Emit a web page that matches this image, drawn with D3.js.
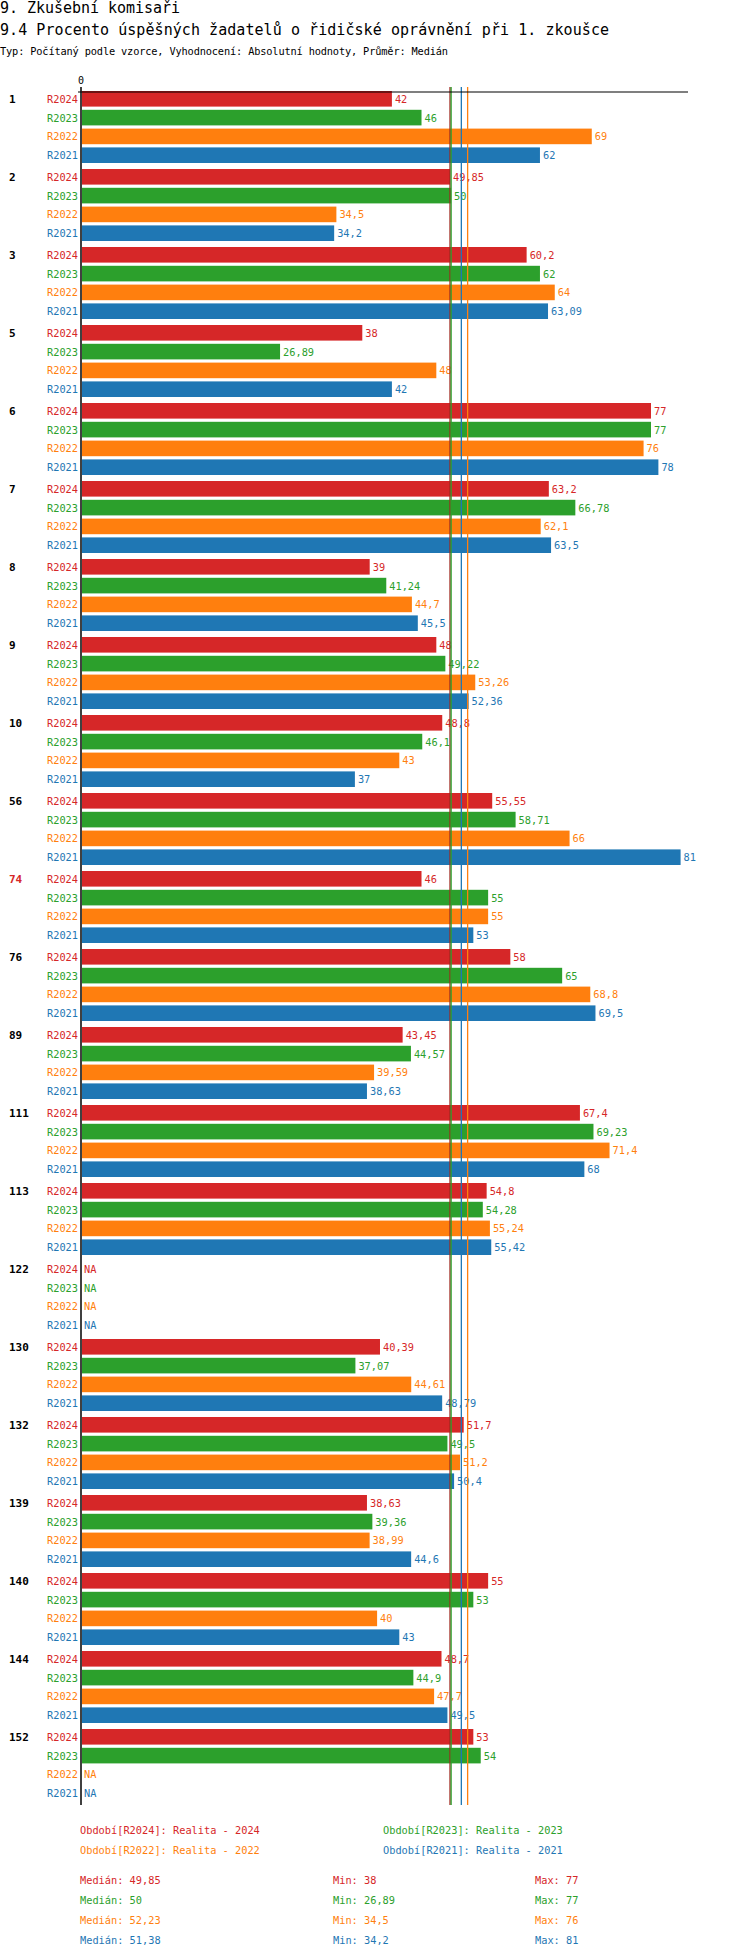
<!DOCTYPE html>
<html><head><meta charset="utf-8">
<script src="https://cdn.jsdelivr.net/npm/d3@7"></script>
<style>
body{margin:0;background:#fff}
text{font-family:"DejaVu Sans Mono",monospace}
</style></head><body>
<svg id="c" width="750" height="1958"></svg>
<script>
const groups = ["1","2","3","5","6","7","8","9","10","56","74","76","89","111","113","122","130","132","139","140","144","152"];
const seriesNames = ["R2024","R2023","R2022","R2021"];
const colors = ["#d62728","#2ca02c","#ff7f0e","#1f77b4"];
const r2024 = [42,49.85,60.2,38,77,63.2,39,48,48.8,55.55,46,58,43.45,67.4,54.8,null,40.39,51.7,38.63,55,48.7,53];
const r2023 = [46,50,62,26.89,77,66.78,41.24,49.22,46.1,58.71,55,65,44.57,69.23,54.28,null,37.07,49.5,39.36,53,44.9,54];
const r2022 = [69,34.5,64,48,76,62.1,44.7,53.26,43,66,55,68.8,39.59,71.4,55.24,null,44.61,51.2,38.99,40,47.7,null];
const r2021 = [62,34.2,63.09,42,78,63.5,45.5,52.36,37,81,53,69.5,38.63,68,55.42,null,48.79,50.4,44.6,43,49.5,null];
const medians = [49.85,50,52.23,51.38];
const mins = [38,26.89,34.5,34.2];
const maxs = [77,77,76,81];
const legendText = ["Období[R2024]: Realita - 2024","Období[R2023]: Realita - 2023","Období[R2022]: Realita - 2022","Období[R2021]: Realita - 2021"];
const highlight = "74";

const values = [r2024,r2023,r2022,r2021];
const fmt = v => String(v).replace(".", ",");
const svg = d3.select("#c");

svg.append("text").attr("x",0).attr("y",13).attr("font-size",15).attr("textLength",180).text("9. Zkušební komisaři");
svg.append("text").attr("x",0).attr("y",35).attr("font-size",15).attr("textLength",609).text("9.4 Procento úspěšných žadatelů o řidičské oprávnění při 1. zkoušce");
svg.append("text").attr("x",0).attr("y",55).attr("font-size",10.3).attr("textLength",448).text("Typ: Počítaný podle vzorce, Vyhodnocení: Absolutní hodnoty, Průměr: Medián");

const x = d3.scaleLinear().domain([0,82]).range([81,688]);
const gy = d3.scaleBand().domain(groups).range([91,91+78*groups.length]);
const ry = d3.scaleBand().domain(seriesNames).range([0,72]).paddingInner(0.17);

svg.append("text").attr("x",x(0)).attr("y",84).attr("text-anchor","middle").attr("font-size",10).text("0");

groups.forEach((g,gi) => {
  const gg = svg.append("g").attr("transform",`translate(0,${gy(g)})`);
  gg.append("text").attr("x",9).attr("y",ry("R2024")+ry.bandwidth()/2+4)
    .attr("font-size",11).attr("font-weight","bold")
    .attr("fill", g===highlight ? "#d62728" : "#000").text(g);
  seriesNames.forEach((s,si) => {
    const v = values[si][gi];
    const cy = ry(s)+ry.bandwidth()/2;
    gg.append("text").attr("x",78).attr("y",cy+4).attr("text-anchor","end")
      .attr("font-size",10.3).attr("fill",colors[si]).text(s);
    if (v === null) {
      gg.append("text").attr("x",x(0)+3).attr("y",cy+4).attr("font-size",10.3).attr("fill",colors[si]).text("NA");
      return;
    }
    gg.append("rect").attr("x",x(0)+1).attr("y",ry(s)).attr("width",x(v)-x(0)-1)
      .attr("height",ry.bandwidth()).attr("fill",colors[si]);
    gg.append("text").attr("x",x(v)+3).attr("y",cy+4).attr("font-size",10.3).attr("fill",colors[si]).text(fmt(v));
  });
});

const bottom = gy(groups[groups.length-1]) + 78 - 2;
medians.forEach((m,i) => {
  svg.append("line").attr("x1",x(m)).attr("x2",x(m)).attr("y1",87).attr("y2",bottom)
    .attr("stroke", i===0 ? "#a0281e" : colors[i]).attr("stroke-width",1.3);
});
svg.append("line").attr("x1",78).attr("x2",688).attr("y1",92).attr("y2",92).attr("stroke","#000").attr("stroke-width",1.2);
svg.append("line").attr("x1",x(0)).attr("x2",x(0)).attr("y1",87).attr("y2",bottom).attr("stroke","#000").attr("stroke-width",1.5);

const lx = [80,383];
legendText.forEach((t,i) => {
  svg.append("text").attr("x",lx[i%2]).attr("y",1834+Math.floor(i/2)*20).attr("font-size",10.3).attr("fill",colors[i]).text(t);
});
seriesNames.forEach((s,i) => {
  const y = 1884+i*20;
  svg.append("text").attr("x",80).attr("y",y).attr("font-size",10.3).attr("fill",colors[i]).text("Medián: "+fmt(medians[i]));
  svg.append("text").attr("x",333).attr("y",y).attr("font-size",10.3).attr("fill",colors[i]).text("Min: "+fmt(mins[i]));
  svg.append("text").attr("x",535).attr("y",y).attr("font-size",10.3).attr("fill",colors[i]).text("Max: "+fmt(maxs[i]));
});
</script></body></html>
